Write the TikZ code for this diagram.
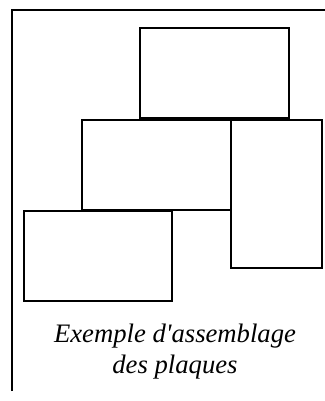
\documentclass[tikz,border=0pt]{standalone}
\usepackage{fontspec}
\setmainfont{Liberation Serif}
\begin{document}
\begin{tikzpicture}[x=0.75pt,y=-0.75pt,
  plate/.style={draw=black,line width=1.5pt,fill=none},
  frameline/.style={draw=black,line width=1.5pt},
  caption/.style={font=\fontsize{20pt}{23pt}\selectfont\itshape,align=center,inner sep=0pt}]
\useasboundingbox (0,0) rectangle (325,401);
\draw[frameline] (12,391) -- (12,10) -- (325,10);
\draw[plate] (140,28) rectangle (289,118);
\draw[plate] (82,120) rectangle (231,210);
\draw[plate] (231,120) rectangle (322,268);
\draw[plate] (24,211) rectangle (172,301);
\node[caption,anchor=base] (cap) at (175,342) {Exemple d\textquotesingle assemblage};
\node[caption,anchor=base] (cap2) at (175,373) {des plaques};
\end{tikzpicture}
\end{document}
